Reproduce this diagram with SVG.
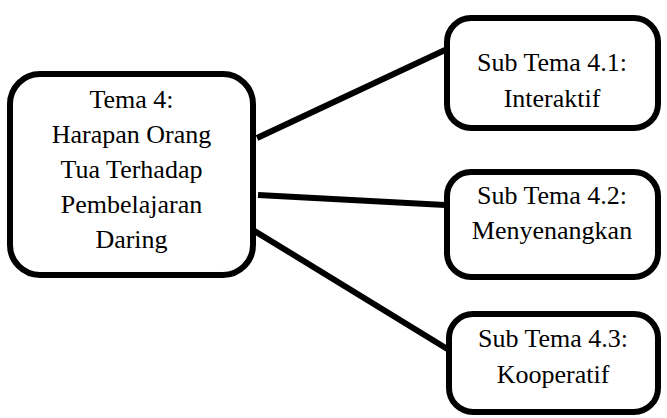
<svg xmlns="http://www.w3.org/2000/svg" width="667" height="418" viewBox="0 0 667 418">
  <style>
    .box { fill: #ffffff; stroke: #000000; stroke-width: 6; }
    .link { stroke: #000000; stroke-width: 6; fill: none; }
    .label { font-family: "Liberation Serif", "Times New Roman", serif; font-size: 26px; fill: #000000; text-anchor: middle; }
  </style>
  <rect width="667" height="418" fill="#ffffff"/>
  <g id="connectors">
    <line class="link" x1="257" y1="138" x2="445" y2="50"/>
    <line class="link" x1="258" y1="195" x2="445" y2="205"/>
    <line class="link" x1="253" y1="230" x2="449" y2="350"/>
  </g>
  <g id="tema4">
    <rect class="box" x="10" y="74" width="243" height="201" rx="30" ry="30"/>
    <text class="label" x="131.5" y="108">Tema 4:</text>
    <text class="label" x="131.5" y="143">Harapan Orang</text>
    <text class="label" x="131.5" y="178">Tua Terhadap</text>
    <text class="label" x="131.5" y="213">Pembelajaran</text>
    <text class="label" x="131.5" y="248">Daring</text>
  </g>
  <g id="subtema41">
    <rect class="box" x="447" y="18" width="211" height="110" rx="24" ry="24"/>
    <text class="label" x="552" y="71">Sub Tema 4.1:</text>
    <text class="label" x="552" y="107">Interaktif</text>
  </g>
  <g id="subtema42">
    <rect class="box" x="447" y="172" width="211" height="105" rx="24" ry="24"/>
    <text class="label" x="552" y="204">Sub Tema 4.2:</text>
    <text class="label" x="552" y="239">Menyenangkan</text>
  </g>
  <g id="subtema43">
    <rect class="box" x="449" y="314" width="209" height="98" rx="24" ry="24"/>
    <text class="label" x="553" y="347">Sub Tema 4.3:</text>
    <text class="label" x="553" y="383">Kooperatif</text>
  </g>
</svg>
